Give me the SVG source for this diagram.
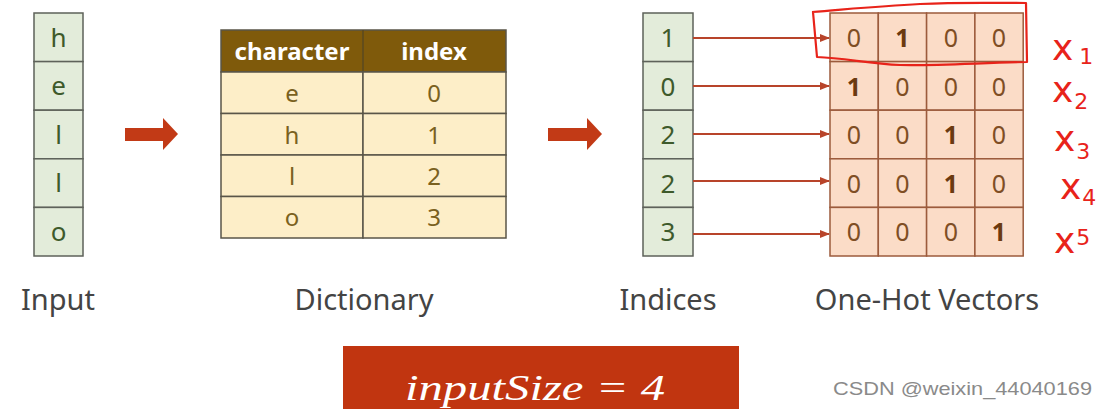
<svg xmlns="http://www.w3.org/2000/svg" width="1107" height="409" viewBox="0 0 1107 409">
<defs>
<style>
.g{fill:#e3ecda;stroke:#5e625a;stroke-width:1.5}
.gt{font-family:"Noto Sans","Open Sans",sans-serif;font-size:26px;fill:#3e5a2b;text-anchor:middle}
.dt{font-family:"Noto Sans","Open Sans",sans-serif;font-size:24px;fill:#7a6120;text-anchor:middle}
.dh{font-family:"Noto Sans","Open Sans",sans-serif;font-size:24px;font-weight:bold;fill:#ffffff;text-anchor:middle}
.row{fill:#fdeec8;stroke:#5a5548;stroke-width:1.5}
.m{fill:#fbdcc7;stroke:#9c5b3c;stroke-width:1.5}
.mt{font-family:"Noto Sans","Open Sans",sans-serif;font-size:25px;fill:#7f4e24;text-anchor:middle}
.mb{font-weight:bold;fill:#6b3a10}
.lbl{font-family:"Noto Sans","Open Sans",sans-serif;font-size:29px;fill:#444;text-anchor:middle}
.big{fill:#c23a16}
.con{stroke:#b8442a;stroke-width:2;fill:none;marker-end:url(#ah)}
.hw{font-family:"DejaVu Sans",sans-serif;fill:#e8231a;font-size:36px}
.hws{font-size:22px}
</style>
<marker id="ah" markerWidth="10" markerHeight="8" refX="9" refY="4" orient="auto" markerUnits="userSpaceOnUse">
<path d="M0,0 L10,4 L0,8 Z" fill="#b8442a"/>
</marker>
</defs>
<rect width="1107" height="409" fill="#ffffff"/>

<g id="input">
<rect class="g" x="34" y="13" width="49" height="48.6"/>
<rect class="g" x="34" y="61.6" width="49" height="48.6"/>
<rect class="g" x="34" y="110.2" width="49" height="48.6"/>
<rect class="g" x="34" y="158.8" width="49" height="48.6"/>
<rect class="g" x="34" y="207.4" width="49" height="48.6"/>
<text class="gt" x="58.5" y="47">h</text>
<text class="gt" x="58.5" y="95">e</text>
<text class="gt" x="58.5" y="144">l</text>
<text class="gt" x="58.5" y="192">l</text>
<text class="gt" x="58.5" y="241">o</text>
<text class="lbl" x="58" y="310">Input</text>
</g>

<g id="arrow1">
<path class="big" d="M125,128 H163 V118 L178,134 L163,150 V141 H125 Z"/>
</g>

<g id="dictionary">
<rect x="221" y="30" width="285" height="42" fill="#7f5a0b" stroke="#5a5548" stroke-width="1.5"/>
<line x1="363" y1="30" x2="363" y2="72" stroke="#5a4a20" stroke-width="1.5"/>
<text class="dh" x="292" y="60">character</text>
<text class="dh" x="434" y="60">index</text>
<rect class="row" x="221" y="72" width="142" height="41.5"/>
<rect class="row" x="363" y="72" width="143" height="41.5"/>
<rect class="row" x="221" y="113.5" width="142" height="41.5"/>
<rect class="row" x="363" y="113.5" width="143" height="41.5"/>
<rect class="row" x="221" y="155" width="142" height="41.5"/>
<rect class="row" x="363" y="155" width="143" height="41.5"/>
<rect class="row" x="221" y="196.5" width="142" height="41.5"/>
<rect class="row" x="363" y="196.5" width="143" height="41.5"/>
<text class="dt" x="292" y="102">e</text>
<text class="dt" x="434" y="102">0</text>
<text class="dt" x="292" y="144">h</text>
<text class="dt" x="434" y="144">1</text>
<text class="dt" x="292" y="185">l</text>
<text class="dt" x="434" y="185">2</text>
<text class="dt" x="292" y="226">o</text>
<text class="dt" x="434" y="226">3</text>
<text class="lbl" x="364" y="310">Dictionary</text>
</g>

<g id="arrow2">
<path class="big" d="M548,128 H587 V118 L602,134 L587,150 V141 H548 Z"/>
</g>

<g id="indices">
<rect class="g" x="643" y="13" width="50" height="48.6"/>
<rect class="g" x="643" y="61.6" width="50" height="48.6"/>
<rect class="g" x="643" y="110.2" width="50" height="48.6"/>
<rect class="g" x="643" y="158.8" width="50" height="48.6"/>
<rect class="g" x="643" y="207.4" width="50" height="48.6"/>
<text class="gt" x="668" y="47">1</text>
<text class="gt" x="668" y="96">0</text>
<text class="gt" x="668" y="144">2</text>
<text class="gt" x="668" y="193">2</text>
<text class="gt" x="668" y="241">3</text>
<text class="lbl" x="668" y="310">Indices</text>
</g>

<g id="onehot">
<g>
<rect class="m" x="830" y="13" width="48.3" height="48.6"/><rect class="m" x="878.3" y="13" width="48.3" height="48.6"/><rect class="m" x="926.6" y="13" width="48.3" height="48.6"/><rect class="m" x="974.9" y="13" width="48.3" height="48.6"/>
<rect class="m" x="830" y="61.6" width="48.3" height="48.6"/><rect class="m" x="878.3" y="61.6" width="48.3" height="48.6"/><rect class="m" x="926.6" y="61.6" width="48.3" height="48.6"/><rect class="m" x="974.9" y="61.6" width="48.3" height="48.6"/>
<rect class="m" x="830" y="110.2" width="48.3" height="48.6"/><rect class="m" x="878.3" y="110.2" width="48.3" height="48.6"/><rect class="m" x="926.6" y="110.2" width="48.3" height="48.6"/><rect class="m" x="974.9" y="110.2" width="48.3" height="48.6"/>
<rect class="m" x="830" y="158.8" width="48.3" height="48.6"/><rect class="m" x="878.3" y="158.8" width="48.3" height="48.6"/><rect class="m" x="926.6" y="158.8" width="48.3" height="48.6"/><rect class="m" x="974.9" y="158.8" width="48.3" height="48.6"/>
<rect class="m" x="830" y="207.4" width="48.3" height="48.6"/><rect class="m" x="878.3" y="207.4" width="48.3" height="48.6"/><rect class="m" x="926.6" y="207.4" width="48.3" height="48.6"/><rect class="m" x="974.9" y="207.4" width="48.3" height="48.6"/>
</g>
<text class="mt" y="47"><tspan x="854">0</tspan><tspan x="902.5" class="mb">1</tspan><tspan x="951">0</tspan><tspan x="999">0</tspan></text>
<text class="mt" y="96"><tspan x="854" class="mb">1</tspan><tspan x="902.5">0</tspan><tspan x="951">0</tspan><tspan x="999">0</tspan></text>
<text class="mt" y="144"><tspan x="854">0</tspan><tspan x="902.5">0</tspan><tspan x="951" class="mb">1</tspan><tspan x="999">0</tspan></text>
<text class="mt" y="193"><tspan x="854">0</tspan><tspan x="902.5">0</tspan><tspan x="951" class="mb">1</tspan><tspan x="999">0</tspan></text>
<text class="mt" y="241"><tspan x="854">0</tspan><tspan x="902.5">0</tspan><tspan x="951">0</tspan><tspan x="999" class="mb">1</tspan></text>
<text class="lbl" x="927" y="310">One-Hot Vectors</text>
</g>

<g id="connectors">
<line class="con" x1="693" y1="38" x2="829" y2="38"/>
<line class="con" x1="693" y1="86" x2="829" y2="86"/>
<line class="con" x1="693" y1="134" x2="829" y2="134"/>
<line class="con" x1="693" y1="181" x2="829" y2="181"/>
<line class="con" x1="693" y1="234" x2="829" y2="234"/>
</g>

<g id="annotations">
<path d="M812,12 C850,9 880,6 920,4 C960,2 1000,3 1026,3 L1027,62 C980,63 930,66 900,65 C870,64 845,58 817,57 L813,12" fill="none" stroke="#e8231a" stroke-width="2.2" stroke-linejoin="round"/>
<text class="hw" x="1052" y="60">x<tspan class="hws" dx="6" dy="4">1</tspan></text>
<text class="hw" x="1052" y="102">x<tspan class="hws" dx="1" dy="7">2</tspan></text>
<text class="hw" x="1054" y="151">x<tspan class="hws" dx="1" dy="8">3</tspan></text>
<text class="hw" x="1060" y="199">x<tspan class="hws" dx="1" dy="6">4</tspan></text>
<text class="hw" x="1054" y="253">x<tspan class="hws" dx="1" dy="-8">5</tspan></text>
</g>

<g id="inputsize">
<rect x="343" y="346" width="396" height="63" fill="#c13510"/>
<text x="405" y="400" textLength="260" lengthAdjust="spacingAndGlyphs" font-family="'Liberation Serif',serif" font-style="italic" font-size="36" fill="#ffffff">inputSize = 4</text>
</g>

<text x="833" y="395" textLength="259" lengthAdjust="spacingAndGlyphs" font-family="'Liberation Sans',sans-serif" font-size="19" fill="#8a8a8a">CSDN @weixin_44040169</text>
</svg>
